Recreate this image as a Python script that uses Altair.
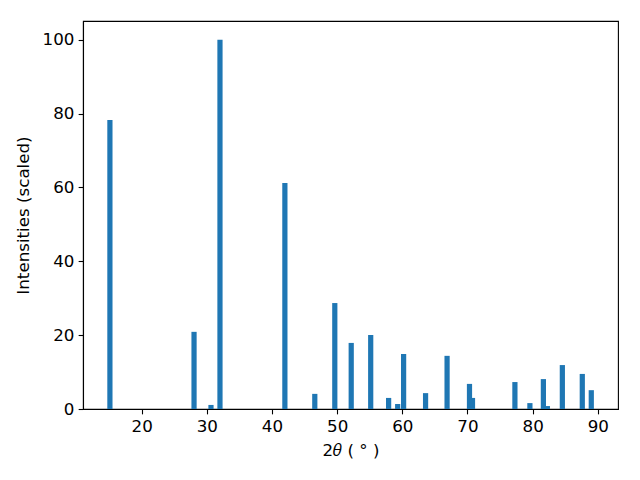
import altair as alt
import pandas as pd

two_theta = [15.13, 28.04, 30.64, 32.02, 41.98, 46.57, 49.64, 52.16, 55.15, 57.9,
             59.29, 60.2, 63.57, 66.87, 70.31, 70.77, 77.28, 79.58, 81.65, 82.26,
             84.56, 87.62, 89.0]
intensity = [78.3, 20.9, 1.1, 100.0, 61.2, 4.1, 28.7, 17.9, 20.05, 3.0,
             1.35, 14.9, 4.3, 14.4, 6.8, 3.0, 7.3, 1.6, 8.1, 0.8,
             11.9, 9.5, 5.1]
bar_width = 0.8

df = pd.DataFrame({"x": two_theta, "y": intensity})

font = "DejaVu Sans"

chart = (
    alt.Chart(df)
    .transform_calculate(x0=f"datum.x - {bar_width/2}", x1=f"datum.x + {bar_width/2}")
    .mark_rect(color="#1f77b4")
    .encode(
        x=alt.X("x0:Q", scale=alt.Scale(domain=[11.0, 93.1], nice=False, zero=False),
                axis=alt.Axis(values=[20, 30, 40, 50, 60, 70, 80, 90], title="2\U0001D703 ( ° )")),
        x2="x1:Q",
        y=alt.Y("y:Q", scale=alt.Scale(domain=[0, 105.1], nice=False),
                axis=alt.Axis(values=[0, 20, 40, 60, 80, 100], title="Intensities (scaled)")),
        y2=alt.datum(0),
    )
    .properties(width=535, height=388,
                autosize=alt.AutoSizeParams(type="none"),
                padding={"left": 75, "top": 13, "right": 14, "bottom": 51})
    .configure_view(stroke="black", strokeWidth=1.1)
    .configure_axis(
        grid=False, domain=True, domainColor="black", domainWidth=1.1,
        ticks=True, tickColor="black", tickSize=4.86, tickWidth=1.1,
        labelFont=font, labelFontSize=16.7, labelColor="black", labelPadding=4.2,
        titleFont=font, titleFontSize=16.7, titleColor="black", titleFontWeight="normal",
    )
    .configure_axisX(titlePadding=8)
    .configure_axisY(titlePadding=10)
)

chart.save("out.html", embed_options={"renderer": "svg", "actions": False})
